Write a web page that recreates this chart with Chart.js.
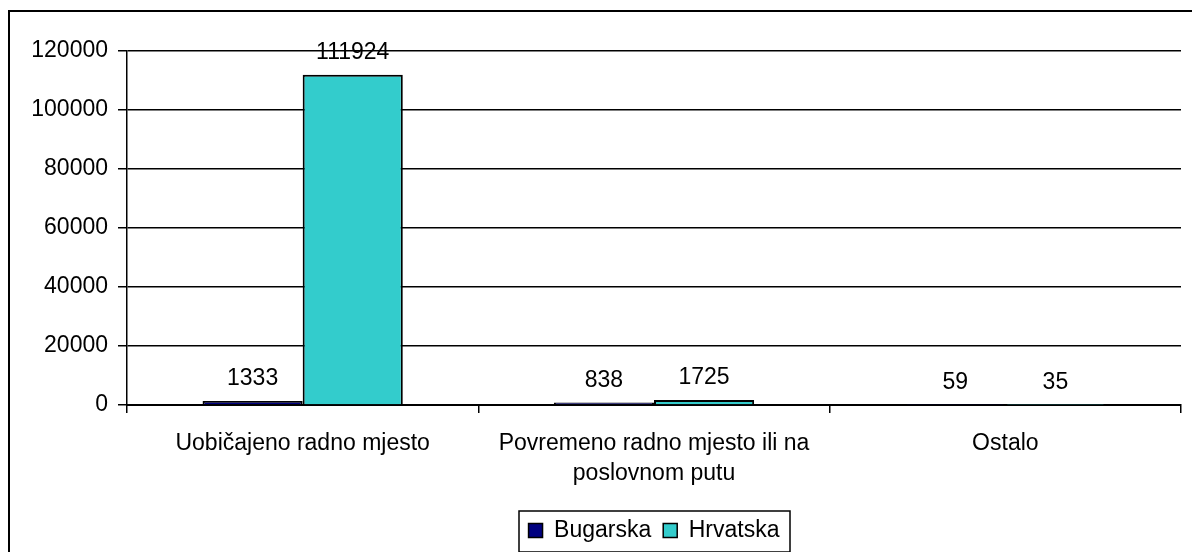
<!DOCTYPE html>
<html>
<head>
<meta charset="utf-8">
<script src="https://cdn.jsdelivr.net/npm/chart.js@4/dist/chart.umd.min.js"></script>
<style>
  body { margin: 0; background: #fff; }
  #wrap { position: relative; width: 1192px; height: 552px; overflow: hidden; }
  #frame { position: absolute; left: 8px; top: 10px; width: 1200px; height: 560px; border: 2px solid #000; pointer-events: none; }
  canvas { position: absolute; left: 0; top: 0; }
</style>
</head>
<body>
<div id="wrap">
  <canvas id="chart" width="1192" height="552"></canvas>
  <div id="frame"></div>
</div>
<script>
const categories = ['Uobičajeno radno mjesto', ['Povremeno radno mjesto ili na', 'poslovnom putu'], 'Ostalo'];
const bugarska = [1333, 838, 59];
const hrvatska = [111924, 1725, 35];
const yMin = 0;
const yMax = 120000;
const yStep = 20000;

const fontFamily = '"Liberation Sans", Arial, sans-serif';
const fontSize = 23;

// value labels above bars
const valueLabels = {
    id: 'valueLabels',
    afterDatasetsDraw(chart) {
        const ctx = chart.ctx;
        ctx.save();
        ctx.font = fontSize + 'px ' + fontFamily;
        ctx.fillStyle = '#000';
        ctx.textAlign = 'center';
        ctx.textBaseline = 'alphabetic';
        chart.data.datasets.forEach((ds, i) => {
            chart.getDatasetMeta(i).data.forEach((bar, j) => {
                ctx.fillText(String(ds.data[j]), bar.x, bar.y - 16);
            });
        });
        ctx.restore();
    }
};

// move legend under the plot area and draw a border round it
const legendBox = {
    id: 'legendBox',
    afterLayout(chart) {
        const lg = chart.legend;
        const shift = (chart.chartArea.left + chart.chartArea.right) / 2 - (lg.left + lg.right) / 2;
        lg.left += shift;
        lg.right += shift;
        (lg.legendHitBoxes || []).forEach(b => { b.left += shift; });
    },
    afterDraw(chart) {
        const boxes = chart.legend.legendHitBoxes;
        if (!boxes || !boxes.length) return;
        const first = boxes[0];
        const last = boxes[boxes.length - 1];
        const ctx = chart.ctx;
        ctx.save();
        ctx.strokeStyle = '#000';
        ctx.lineWidth = 1.5;
        const cy = Math.round(first.top + first.height / 2);
        ctx.strokeRect(Math.round(first.left) - 10, cy - 20, Math.round(last.left + last.width - first.left) + 20, 41);
        ctx.restore();
    }
};

const ctx = document.getElementById('chart').getContext('2d');
new Chart(ctx, {
    type: 'bar',
    data: {
        labels: categories,
        datasets: [{
            label: 'Bugarska',
            data: bugarska,
            backgroundColor: '#000080',
            borderColor: '#000',
            borderWidth: 2,
        }, {
            label: 'Hrvatska',
            data: hrvatska,
            backgroundColor: '#33CCCC',
            borderColor: '#000',
            borderWidth: 2,
        }],
    },
    options: {
        responsive: false,
        animation: false,
        categoryPercentage: 0.57,
        barPercentage: 1.0,
        layout: {
            padding: { top: 51, right: 11, left: 0, bottom: 0 },
        },
        plugins: {
            legend: {
                position: 'bottom',
                labels: {
                    boxWidth: 14,
                    boxHeight: 14,
                    padding: 12,
                    color: '#000',
                    font: { family: fontFamily, size: fontSize },
                    generateLabels(chart) {
                        return chart.data.datasets.map((ds, i) => ({
                            text: ds.label,
                            fillStyle: ds.backgroundColor,
                            strokeStyle: '#000',
                            lineWidth: 1.5,
                            datasetIndex: i,
                        }));
                    },
                },
            },
            tooltip: { enabled: false },
        },
        scales: {
            x: {
                grid: {
                    offset: true,
                    drawOnChartArea: false,
                    drawTicks: true,
                    tickLength: 8,
                    color: '#000',
                    lineWidth: 1.5,
                },
                border: { color: '#000', width: 2 },
                ticks: {
                    color: '#000',
                    padding: 16,
                    maxRotation: 0,
                    font: { family: fontFamily, size: fontSize, lineHeight: 1.3 },
                },
                afterFit(scale) { scale.height = 102; },
            },
            y: {
                min: yMin,
                max: yMax,
                grid: {
                    color: '#000',
                    lineWidth: 1.5,
                    tickLength: 9,
                },
                border: { color: '#000', width: 1.5 },
                ticks: {
                    stepSize: yStep,
                    color: '#000',
                    padding: 10,
                    font: { family: fontFamily, size: fontSize },
                    callback: value => String(value),
                },
                afterFit(scale) { scale.width = 127; },
            },
        },
    },
    plugins: [valueLabels, legendBox],
});
</script>
</body>
</html>
